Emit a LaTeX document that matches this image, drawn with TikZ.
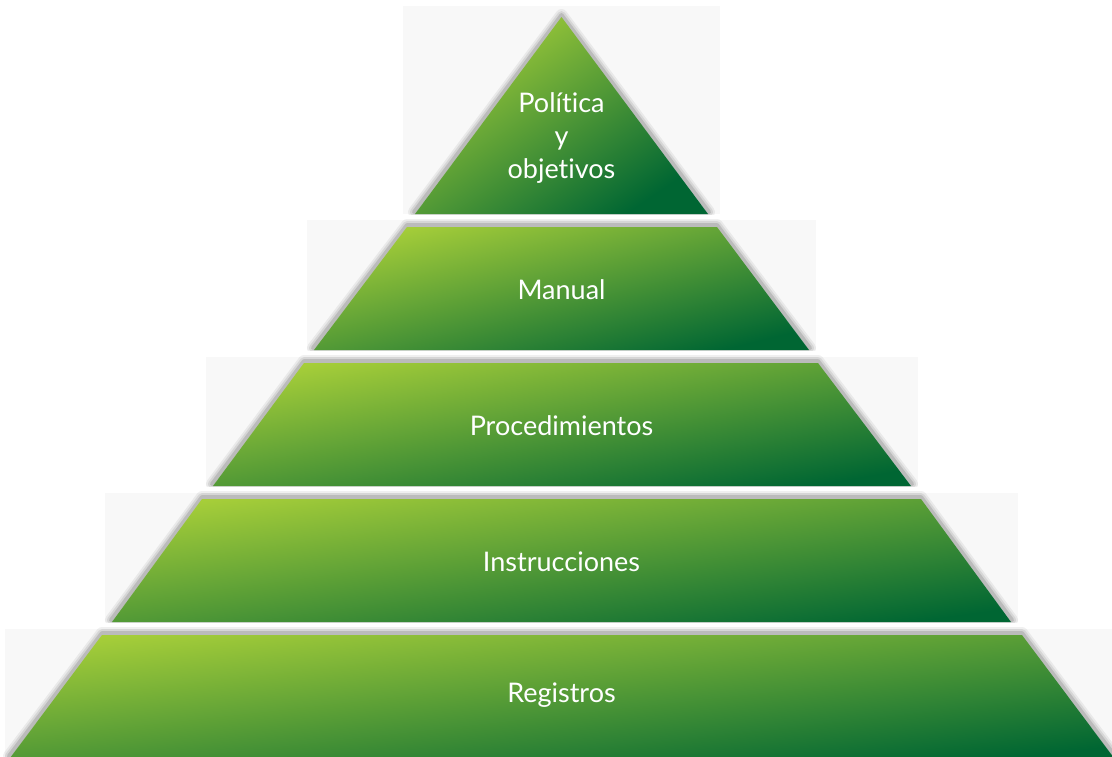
\documentclass[tikz,border=0pt]{standalone}
\usepackage{fontspec}
\setmainfont[Ligatures={NoCommon,NoDiscretionary},Contextuals=NoAlternate]{Lato}
\definecolor{lgA}{HTML}{A6CE39}
\definecolor{lgB}{HTML}{4C9A3C}
\definecolor{lgC}{HTML}{006633}
\definecolor{bgc}{HTML}{F8F8F8}
\newcommand\pyrlayer[8]{%
  \fill[bgc] (#4-#7,#3-#8) rectangle (#5+#7,#6);
  \begin{scope}
    \clip (#4-30,#3-30) rectangle (#5+30,#6);
    \foreach \w/\o in {12/0.06,8/0.08,4/0.12}{
      \draw[black,opacity=\o,line width=\w,line join=round]
        (#1,#3-2) -- (#2,#3-2) -- (#5+1,#6-2) -- (#4-1,#6-2) -- cycle;
    }
  \end{scope}
  \pgfmathsetmacro\shang{atan2(#6-#3,#5-#4)}
  \path[layerfill,shading angle=\shang] (#1,#3) -- (#2,#3) -- (#5,#6) -- (#4,#6) -- cycle;
}
\begin{document}
\begin{tikzpicture}[x=1pt,y=-1pt,
  layerfill/.style={shading=axis,top color=lgA,middle color=lgB,bottom color=lgC},
  lbl/.style={text=white,font=\fontsize{27}{33}\selectfont,align=center,inner sep=0pt}]
\useasboundingbox (0,0) rectangle (1112,756);
\clip (0,0) rectangle (1112,756);
% layers: tl, tr, ty, bl, br, by, bg margin x, bg margin top
\pyrlayer{561.5}{561.5}{17}{415}{708}{214}{12}{11}
\pyrlayer{407}{717}{227}{314}{809}{350}{7}{7}
\pyrlayer{304}{818}{363}{213}{911}{486}{7}{6}
\pyrlayer{202}{921}{499}{112}{1011}{622}{7}{6}
\pyrlayer{102}{1022}{635}{10}{1114}{758}{5}{6}
% labels
\node[lbl] (politica) at (561.5,138.5) {Política\\y\\objetivos};
\node[lbl,anchor=base] (manual) at (561.5,299) {Manual};
\node[lbl,anchor=base] (proc) at (561.5,435) {Procedimientos};
\node[lbl,anchor=base] (instr) at (561.5,571) {Instrucciones};
\node[lbl,anchor=base] (reg) at (561.5,702) {Registros};
\end{tikzpicture}
\end{document}
